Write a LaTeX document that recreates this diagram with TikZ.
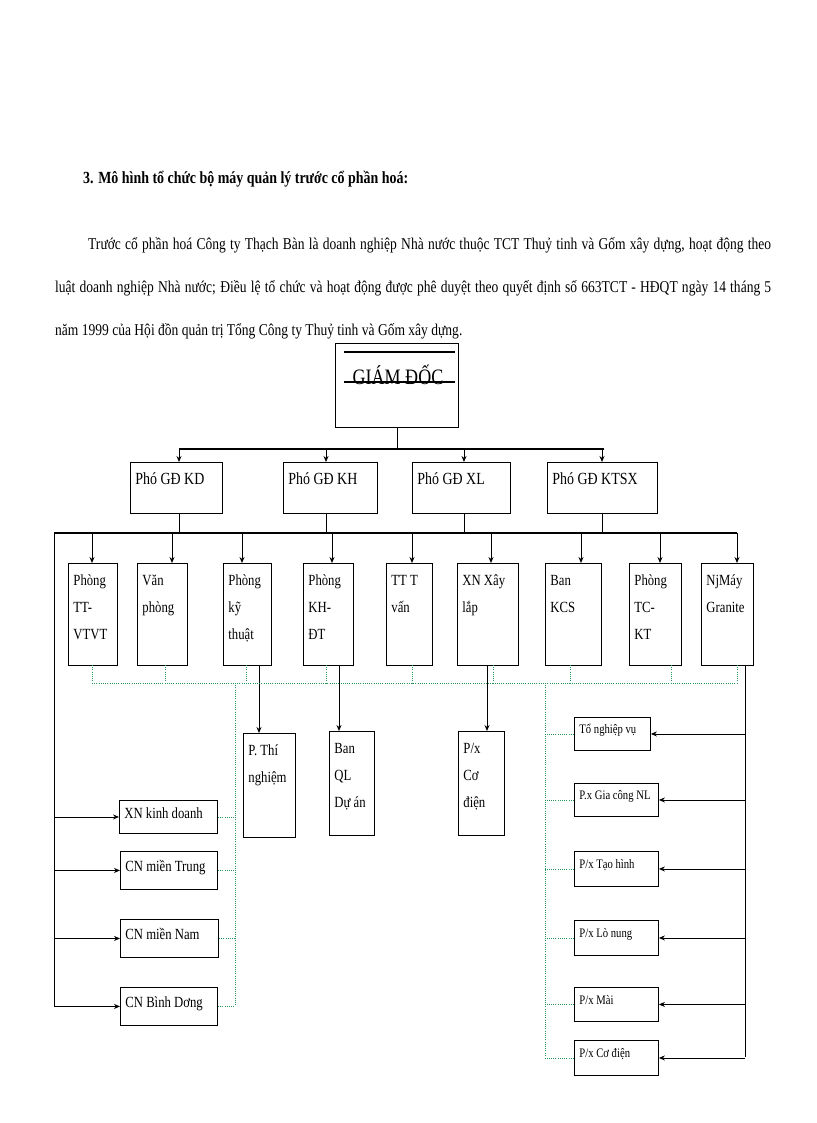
\documentclass[tikz,border=0pt]{standalone}
\usepackage{fontspec}
\setmainfont{Liberation Serif}[FakeStretch=0.82]
\usetikzlibrary{arrows.meta}
\definecolor{dotgreen}{RGB}{40,150,90}
\tikzset{
  box/.style={draw, line width=0.9pt, inner sep=0pt, anchor=north west},
  arr/.style={-{Stealth[length=6pt,width=5pt]}, line width=0.8pt},
  ln/.style={line width=0.8pt},
  bar/.style={line width=1.4pt},
  dot/.style={dotgreen, line width=0.6pt, dash pattern=on 1pt off 1.2pt},
}
\newcommand\bx[7]{\node[box] (#1) at (#2,#3) {\begin{minipage}[t][#5pt][t]{#4pt}\vspace{#7pt}\raggedright\leftskip=5pt\rightskip=0pt plus 1fil\strut #6\end{minipage}};}
\begin{document}
\begin{tikzpicture}[x=1pt,y=-1pt]
\useasboundingbox (0,0) rectangle (816,1123);
% heading and paragraph
\node[anchor=base west, inner sep=0, font=\fontsize{17}{18}\selectfont\bfseries] (title) at (83,184) {3. Mô hình tổ chức bộ máy quản lý trước cổ phần hoá:};
\node[anchor=base west, inner sep=0, font=\fontsize{16.5}{18}\selectfont] (p1) at (88,249) {\makebox[683pt][s]{Trước cổ phần hoá Công ty Thạch Bàn là  doanh nghiệp Nhà nước thuộc TCT Thuỷ tinh và Gốm xây dựng, hoạt động theo}};
\node[anchor=base west, inner sep=0, font=\fontsize{16.5}{18}\selectfont] (p2) at (55,292) {\makebox[716pt][s]{luật  doanh nghiệp  Nhà nước; Điều lệ tổ chức và hoạt động được phê duyệt theo quyết định số 663TCT - HĐQT ngày 14 tháng 5}};
\node[anchor=base west, inner sep=0, font=\fontsize{16.5}{18}\selectfont] (p3) at (55,335) {năm 1999 của Hội đồn quản trị Tổng Công ty Thuỷ tinh và Gốm xây dựng.};
% director
\node[box, minimum width=123pt, minimum height=84pt] (gd) at (335,343) {};
\draw[line width=1.2pt] (344,352) -- (455,352);
\draw[line width=1.2pt] (344,382) -- (455,382);
\node[anchor=base, inner sep=0, font=\fontsize{22}{24}\selectfont] (gdt) at (398,384) {GIÁM ĐỐC};
% deputies
\begingroup
\fontsize{17}{20}\selectfont
\bx{kd}{130}{462}{92}{51}{Phó GĐ KD}{8}
\bx{kh}{283}{462}{94}{51}{Phó GĐ KH}{8}
\bx{xl}{412}{462}{98}{51}{Phó GĐ XL}{8}
\bx{ktsx}{547}{462}{110}{51}{Phó GĐ KTSX}{8}
\endgroup
\coordinate (j0) at (396,449);
\draw[ln] (gd.south) -- (gd.south |- j0);
\draw[bar] (179,449) -- (604,449);
\foreach \n/\x in {kd/179,kh/326,xl/464,ktsx/602}{
  \draw[arr] (\x,449) -- (\x,462);
  \draw[ln] (\x,513) -- (\x,533);
}
% departments
\begingroup
\fontsize{15.5}{27}\selectfont
\bx{ttv}{68}{563}{49}{102}{Phòng\\TT-\\VTVT}{3}
\bx{vp}{137}{563}{50}{102}{Văn\\phòng}{3}
\bx{kt}{223}{563}{48}{102}{Phòng\\kỹ\\thuật}{3}
\bx{khdt}{303}{563}{50}{102}{Phòng\\KH-\\ĐT}{3}
\bx{tt}{386}{563}{46}{102}{TT T\\vấn}{3}
\bx{xn}{457}{563}{61}{102}{XN Xây\\lắp}{3}
\bx{kcs}{545}{563}{56}{102}{Ban\\KCS}{3}
\bx{tckt}{629}{563}{52}{102}{Phòng\\TC-\\KT}{3}
\bx{gra}{701}{563}{52}{102}{NjMáy\\Granite}{3}
\bx{tn}{243}{733}{52}{104}{P. Thí\\nghiệm}{3}
\bx{ql}{329}{731}{45}{104}{Ban\\QL\\Dự án}{3}
\bx{cd}{458}{731}{46}{104}{P/x\\Cơ\\điện}{3}
\endgroup
\draw[bar] (54,533) -- (737,533);
\foreach \n/\x in {ttv/92,vp/172,kt/242,khdt/332,tt/412,xn/491,kcs/581,tckt/660,gra/737}{
  \draw[arr] (\x,533) -- (\x,563);
}
\draw[arr] (259,665) -- (259,733);
\draw[arr] (339,665) -- (339,731);
\draw[arr] (487,665) -- (487,731);
% left branches
\begingroup
\fontsize{15.5}{18}\selectfont
\bx{xnkd}{119}{800}{98}{33}{XN kinh doanh}{5}
\bx{cnt}{120}{851}{97}{38}{CN miền Trung}{7}
\bx{cnn}{120}{919}{98}{38}{CN miền Nam}{7}
\bx{cnb}{120}{987}{97}{38}{CN Bình Dơng}{7}
\endgroup
\coordinate (lt) at (54,533);
\draw[ln] (lt) -- (54,1006);
\foreach \n in {xnkd,cnt,cnn,cnb}{
  \draw[arr] (\n.west -| lt) -- (\n.west);
}
% right branches
\begingroup
\fontsize{13}{15}\selectfont
\bx{tnv}{574}{717}{76}{33}{Tổ nghiệp vụ}{6}
\bx{gc}{574}{783}{84}{33}{P.x Gia công NL}{6}
\bx{th}{574}{851}{84}{35}{P/x Tạo hình}{7}
\bx{ln}{574}{920}{84}{35}{P/x Lò nung}{7}
\bx{mai}{574}{987}{84}{34}{P/x Mài}{7}
\bx{pcd}{574}{1040}{84}{35}{P/x Cơ điện}{7}
\endgroup
\coordinate (rt) at (745,665);
\draw[ln] (rt) -- (745,1057);
\foreach \n in {tnv,gc,th,ln,mai,pcd}{
  \draw[arr] (\n.east -| rt) -- (\n.east);
}
% dotted green links
\draw[dot] (92,683) -- (737,683);
\foreach \x in {92,165,246,326,412,493,570,671,737}{
  \draw[dot] (\x,665) -- (\x,683);
}
\draw[dot] (235,683) -- (235,1006);
\foreach \n in {xnkd,cnt,cnn,cnb}{
  \draw[dot] (\n.east) -- (\n.east -| 235,0);
}
\draw[dot] (545,683) -- (545,1057);
\foreach \n in {tnv,gc,th,ln,mai,pcd}{
  \draw[dot] (\n.west) -- (\n.west -| 545,0);
}
\end{tikzpicture}
\end{document}
